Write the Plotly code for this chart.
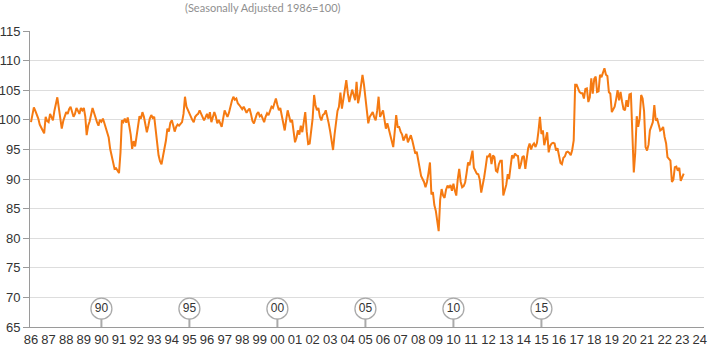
import pandas as pd
import plotly.graph_objects as go

# Small business optimism index, monthly, Jan 1986 - Feb 2023 (1986 = 100)
start_month = "1986-01-01"
index_values = [
    # 1986
    99.6, 101.0, 102.1, 101.5, 101.0, 100.2, 99.2, 98.8, 98.2, 97.7, 100.5, 99.8,
    # 1987
    99.6, 101.0, 100.4, 99.9, 101.5, 102.5, 103.8, 102.0, 100.5, 98.5, 99.8, 100.5,
    # 1988
    101.3, 101.0, 101.8, 102.2, 101.4, 100.5, 101.0, 102.0, 101.5, 101.0, 102.0, 101.6,
    # 1989
    102.0, 100.5, 97.4, 99.0, 99.7, 100.8, 102.0, 101.2, 100.2, 99.6, 99.0, 100.0,
    # 1990
    99.7, 100.2, 99.5, 98.5, 98.0, 97.0, 95.1, 94.0, 92.5, 91.7, 91.8, 91.3,
    # 1991
    91.0, 94.5, 99.9, 99.6, 100.2, 99.5, 100.4, 99.0, 97.5, 95.1, 96.4, 95.5,
    # 1992
    97.5, 99.0, 100.6, 100.2, 101.3, 100.5, 99.0, 97.9, 99.0, 100.2, 100.8, 100.3,
    # 1993
    100.5, 98.0, 95.4, 94.0, 93.0, 92.5, 93.8, 94.9, 96.5, 98.5, 98.0, 99.5,
    # 1994
    99.9, 99.0, 98.0, 98.8, 99.2, 99.0, 99.4, 99.6, 101.0, 103.9, 102.2, 101.6,
    # 1995
    101.2, 100.3, 100.0, 99.6, 100.5, 100.8, 101.0, 101.6, 101.0, 100.5, 99.9, 100.4,
    # 1996
    101.0, 100.2, 101.3, 99.6, 100.5, 101.3, 100.6, 99.4, 100.0, 99.2, 98.8, 100.2,
    # 1997
    101.6, 101.0, 100.5, 101.2, 102.5, 103.2, 103.9, 103.4, 103.6, 102.8, 102.5, 102.2,
    # 1998
    101.8, 102.2, 101.6, 101.2, 101.6, 101.9, 101.0, 99.8, 99.4, 100.2, 101.0, 101.3,
    # 1999
    100.6, 100.8, 100.2, 99.6, 100.5, 101.1, 100.8, 101.5, 102.2, 102.0, 102.8, 103.6,
    # 2000
    102.5, 101.6, 102.0, 100.5, 99.5, 98.2, 100.0, 101.6, 100.6, 99.6, 100.0, 97.8,
    # 2001
    96.2, 97.0, 98.2, 97.5, 99.0, 97.9, 99.8, 101.3, 98.0, 95.9, 96.0, 98.5,
    # 2002
    100.2, 104.2, 102.5, 101.6, 102.0, 100.5, 99.9, 100.8, 101.0, 101.6, 100.6, 99.4,
    # 2003
    98.0, 96.5, 94.9, 97.5, 99.6, 101.5, 102.2, 104.6, 101.9, 103.5, 105.5, 106.7,
    # 2004
    104.5, 103.0, 104.0, 105.1, 104.2, 103.3, 106.4, 102.8, 104.0, 105.5, 107.6, 106.0,
    # 2005
    103.6, 102.0, 99.4, 100.5, 101.0, 101.3, 100.5, 99.9, 101.5, 103.9, 100.5, 101.0,
    # 2006
    101.6, 100.0, 98.5, 99.4, 98.5, 97.5, 96.5, 95.4, 98.0, 100.8, 98.8, 98.8,
    # 2007
    98.0, 97.5, 96.5, 97.0, 97.6, 96.2, 96.8, 97.4, 96.5, 95.5, 94.3, 94.6,
    # 2008
    93.1, 92.0, 90.5, 90.0, 89.5, 88.6, 89.5, 91.0, 92.8, 87.4, 87.8, 85.6,
    # 2009
    84.6, 82.8, 81.2, 86.5, 88.3, 87.2, 86.8, 88.2, 88.9, 88.5, 89.0, 88.0,
    # 2010
    89.2, 88.0, 87.2, 90.0, 91.7, 89.5, 88.6, 88.8, 89.4, 91.0, 92.8, 92.3,
    # 2011
    93.8, 94.8, 91.9, 91.4, 90.9, 90.8, 89.9, 87.7, 88.9, 90.3, 92.0, 93.8,
    # 2012
    93.8, 94.3, 92.5, 94.0, 93.7, 91.4, 91.2, 92.5, 93.1, 93.1, 87.2, 87.9,
    # 2013
    89.0, 90.8, 90.0, 92.1, 94.0, 93.5, 94.3, 94.0, 93.9, 91.7, 92.5, 93.7,
    # 2014
    93.9, 91.7, 93.4, 95.2, 96.0, 95.0, 95.7, 96.0, 95.4, 96.1, 98.1, 100.5,
    # 2015
    97.6, 98.2, 95.7, 97.0, 97.9, 94.5, 95.6, 96.0, 96.1, 96.0, 94.8, 95.2,
    # 2016
    93.7, 92.7, 92.5, 93.6, 93.8, 94.5, 94.6, 94.4, 94.0, 94.9, 96.5, 105.9,
    # 2017
    105.9, 105.3, 104.7, 104.5, 104.5, 103.6, 105.2, 105.3, 103.0, 103.8, 107.0, 104.4,
    # 2018
    106.9, 107.3, 104.7, 104.8, 107.6, 107.2, 107.9, 108.7, 107.6, 107.4, 104.7, 104.4,
    # 2019
    101.3, 101.7, 102.2, 103.5, 105.0, 103.3, 104.7, 103.1, 101.8, 101.6, 103.3, 102.2,
    # 2020
    104.3, 104.4, 96.4, 91.1, 94.4, 100.6, 98.8, 100.2, 104.2, 103.6, 101.4, 95.4,
    # 2021
    94.8, 95.8, 98.2, 98.8, 99.6, 102.5, 99.9, 100.1, 99.1, 98.2, 98.4, 98.8,
    # 2022
    97.1, 96.0, 93.7, 93.4, 93.1, 89.5, 89.9, 92.0, 92.1, 91.4, 91.9, 89.7,
    # 2023
    90.3, 90.9,
]

# Year flags shown along the bottom of the plot
flag_years = [1990, 1995, 2000, 2005, 2010, 2015]
flag_labels = ["90", "95", "00", "05", "10", "15"]

# Axis ticks
year_ticks = list(range(1986, 2025))
year_tick_labels = [f"{y % 100:02d}" for y in year_ticks]
value_ticks = [65, 70, 75, 80, 85, 90, 95, 100, 105, 110, 115]

subtitle = "(Seasonally Adjusted 1986=100)"

months = pd.date_range(start_month, periods=len(index_values), freq="MS")
flag_dates = [pd.Timestamp(year=y, month=1, day=1) for y in flag_years]

LINE_COLOR = "#f57a12"
GRID_COLOR = "#dddddd"
AXIS_COLOR = "#9a9a9a"
TICK_FONT = dict(family="Liberation Sans, Arial, sans-serif", size=13, color="#333333")
FLAG_Y = 68.1       # centre of the flag circles, in data units
FLAG_BOTTOM = 66.4  # lower edge of the circles

fig = go.Figure()

fig.add_trace(go.Scatter(
    x=months, y=index_values, mode="lines",
    line=dict(color=LINE_COLOR, width=2),
    hoverinfo="x+y", showlegend=False,
))

# Stems from each flag down to the axis
for d in flag_dates:
    fig.add_shape(type="line", xref="x", yref="y",
                  x0=d, x1=d, y0=65, y1=FLAG_BOTTOM,
                  line=dict(color="#aaaaaa", width=2), layer="above")

fig.add_trace(go.Scatter(
    x=flag_dates, y=[FLAG_Y] * len(flag_dates),
    mode="markers+text", text=flag_labels, textposition="middle center",
    textfont=dict(family="Liberation Sans, Arial, sans-serif", size=12, color="#333333"),
    marker=dict(symbol="circle", size=21, color="white",
                line=dict(color="#aaaaaa", width=1.3)),
    hoverinfo="skip", showlegend=False, cliponaxis=False,
))

fig.add_annotation(
    text=subtitle, xref="paper", yref="paper", x=0.345, y=1.078,
    xanchor="center", yanchor="middle", showarrow=False,
    font=dict(family="Liberation Sans Narrow, Lato, sans-serif",
              size=11, color="#8f8f8f"),
)

fig.update_xaxes(
    type="date",
    range=[pd.Timestamp("1985-12-11"), pd.Timestamp("2024-03-28")],
    tickvals=[pd.Timestamp(year=y, month=1, day=1) for y in year_ticks],
    ticktext=year_tick_labels,
    showgrid=False, zeroline=False,
    showline=True, linecolor=AXIS_COLOR, linewidth=1,
    ticks="", tickfont=TICK_FONT, automargin=False,
)
fig.update_yaxes(
    range=[65, 115], tickvals=value_ticks,
    showgrid=True, gridcolor=GRID_COLOR, gridwidth=1, zeroline=False,
    showline=True, linecolor=AXIS_COLOR, linewidth=1,
    ticks="outside", ticklen=6, tickcolor=AXIS_COLOR,
    tickfont=TICK_FONT, automargin=False,
)

fig.update_layout(
    width=712, height=349,
    margin=dict(l=30, r=8, t=31, b=22),
    paper_bgcolor="white", plot_bgcolor="white",
    showlegend=False,
)

fig.write_html("out.html")
